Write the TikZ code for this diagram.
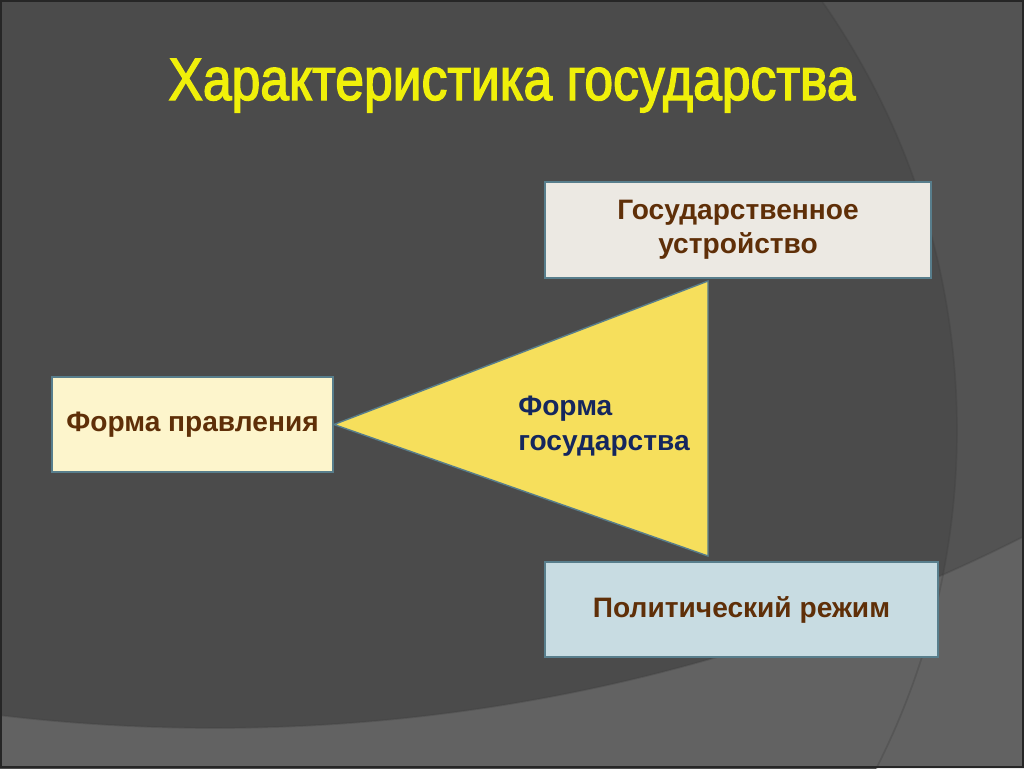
\documentclass[tikz,border=0pt]{standalone}
\usepackage{fontspec}
\setmainfont{Liberation Sans}
\newfontfamily\titlefont[FakeStretch=0.86,FakeBold=2.2]{Liberation Sans}

\definecolor{bgdark}{HTML}{4B4B4B}
\definecolor{bgright}{HTML}{535353}
\definecolor{bgbottom}{HTML}{626262}
\definecolor{rahmen}{HTML}{587E8C}
\definecolor{boxgrau}{HTML}{ECE9E3}
\definecolor{boxcreme}{HTML}{FDF5CC}
\definecolor{boxblau}{HTML}{C8DCE2}
\definecolor{dreieckgelb}{HTML}{F6DF5C}
\definecolor{braun}{HTML}{5F2F08}
\definecolor{tintenblau}{HTML}{15275E}
\definecolor{titelgelb}{HTML}{F0F00A}

\begin{document}
\begin{tikzpicture}[x=0.25mm,y=-0.25mm,
		box/.style={draw=rahmen,line width=1.4pt,inner sep=0pt,align=center,text=braun,
			font=\bfseries\fontsize{20}{24.2}\selectfont},
		schatten/.style={draw=black!75,opacity=0.35,line width=1.2pt}]
				\useasboundingbox (0,0) rectangle (1024,768);
				
				% background with the two big arcs
				\fill[bgright] (0,0) rectangle (1024,768);
				\begin{scope}
					\clip (0,0) rectangle (1024,768);
					\fill[bgdark] (209,430) circle (748);
					\fill[bgbottom,even odd rule] (0,0) rectangle (1024,768) (215,-1072) circle (1800);
					\draw[schatten] (209,430) circle (748);
					\draw[schatten] (215,-1072) circle (1800);
				\end{scope}
				\draw[black!85,line width=1.4pt] (1,1) rectangle (1023,767);
				
				\node[anchor=base,text=titelgelb,font=\titlefont\fontsize{42.7}{50}\selectfont] (titel) at (512,100) {Характеристика государства};
				
				\node[box,fill=boxgrau,minimum width=96.5mm,minimum height=24mm] (staat) at (738,230) {Государственное\\устройство};
				\node[box,fill=boxcreme,minimum width=70.25mm,minimum height=23.75mm] (form) at (192.5,424.5) {Форма правления};
				\node[box,fill=boxblau,minimum width=98.25mm,minimum height=23.75mm] (regime) at (741.5,609.5) {Политический режим};
				
				\coordinate (spitze) at (form.east);
				\coordinate (oben) at (708,281);
				\coordinate (unten) at (708,556);
				
				\filldraw[fill=dreieckgelb,draw=rahmen,line width=1pt,line join=miter] (spitze) -- (oben) -- (unten) -- cycle;
				
				\node[anchor=base west,align=left,inner sep=0pt,text=tintenblau,
					font=\bfseries\fontsize{20}{24.2}\selectfont] (staatsform) at (518,450) {Форма\\государства};
\end{tikzpicture}
\end{document}
